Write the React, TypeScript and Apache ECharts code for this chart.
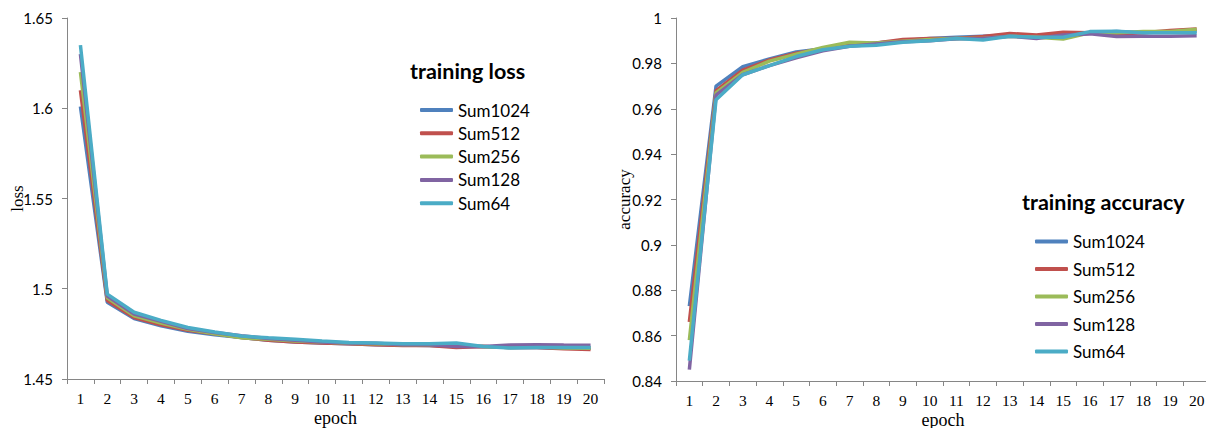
import React, { useEffect, useRef } from "react";
import * as echarts from "echarts";

const categories = ["1", "2", "3", "4", "5", "6", "7", "8", "9", "10", "11", "12", "13", "14", "15", "16", "17", "18", "19", "20"];
const seriesNames = ["Sum1024", "Sum512", "Sum256", "Sum128", "Sum64"];
const colors = ["#4F81BD", "#C0504D", "#9BBB59", "#8064A2", "#4BACC6"];

const lossSum1024 = [1.601, 1.4925, 1.4835, 1.4795, 1.4765, 1.4745, 1.473, 1.4715, 1.4705, 1.47, 1.4695, 1.469, 1.4688, 1.4685, 1.468, 1.468, 1.4675, 1.4675, 1.467, 1.467];
const lossSum512 = [1.61, 1.4935, 1.484, 1.48, 1.477, 1.475, 1.473, 1.4715, 1.4705, 1.47, 1.4695, 1.469, 1.4685, 1.4685, 1.4675, 1.468, 1.4675, 1.4675, 1.4668, 1.4663];
const lossSum256 = [1.62, 1.495, 1.485, 1.481, 1.4775, 1.475, 1.4728, 1.472, 1.471, 1.4705, 1.4698, 1.4695, 1.469, 1.469, 1.4685, 1.468, 1.4675, 1.4678, 1.4672, 1.467];
const lossSum128 = [1.63, 1.496, 1.486, 1.482, 1.478, 1.4758, 1.474, 1.4725, 1.4715, 1.4705, 1.47, 1.4698, 1.469, 1.469, 1.468, 1.468, 1.4688, 1.469, 1.4688, 1.4687];
const lossSum64 = [1.635, 1.497, 1.487, 1.4825, 1.4785, 1.476, 1.4738, 1.4728, 1.472, 1.471, 1.4702, 1.47, 1.4695, 1.4695, 1.47, 1.468, 1.4672, 1.4675, 1.4675, 1.4675];

const accSum1024 = [0.873, 0.97, 0.9785, 0.982, 0.985, 0.9865, 0.988, 0.989, 0.99, 0.991, 0.9915, 0.992, 0.9925, 0.992, 0.993, 0.9935, 0.994, 0.9935, 0.994, 0.994];
const accSum512 = [0.866, 0.968, 0.977, 0.9815, 0.9845, 0.9865, 0.988, 0.989, 0.9905, 0.991, 0.991, 0.9918, 0.9932, 0.9925, 0.9937, 0.9935, 0.993, 0.9935, 0.9945, 0.9951];
const accSum256 = [0.858, 0.967, 0.976, 0.981, 0.984, 0.987, 0.9893, 0.989, 0.9898, 0.9905, 0.991, 0.991, 0.992, 0.9915, 0.9907, 0.9935, 0.9935, 0.994, 0.994, 0.995];
const accSum128 = [0.845, 0.966, 0.975, 0.979, 0.9825, 0.9855, 0.9875, 0.9885, 0.9895, 0.99, 0.9908, 0.991, 0.992, 0.991, 0.9925, 0.993, 0.9918, 0.992, 0.992, 0.9922];
const accSum64 = [0.849, 0.964, 0.975, 0.979, 0.983, 0.986, 0.9875, 0.988, 0.9893, 0.99, 0.991, 0.9903, 0.992, 0.9915, 0.9915, 0.994, 0.9942, 0.9935, 0.9935, 0.9935];

const lossTicks = { min: 1.45, max: 1.65, interval: 0.05 };
const accTicks = { min: 0.84, max: 1, interval: 0.02 };

const lossData = [lossSum1024, lossSum512, lossSum256, lossSum128, lossSum64];
const accData = [accSum1024, accSum512, accSum256, accSum128, accSum64];

const AXIS_COLOR = "#868686";
const SANS = "Lato";
const SERIF = "Liberation Serif";

function makeX(gridIndex: number) {
  return {
    type: "category",
    gridIndex,
    data: categories,
    boundaryGap: true,
    axisLine: { lineStyle: { color: AXIS_COLOR, width: 1 } },
    axisTick: { show: true, length: 5, interval: 0, lineStyle: { color: AXIS_COLOR } },
    axisLabel: { interval: 0, fontFamily: SERIF, fontSize: 15.5, color: "#000", margin: 12, lineHeight: 15 },
    name: "epoch",
    nameLocation: "middle",
    nameGap: 30,
    nameMoveOverlap: false,
    nameTextStyle: { fontFamily: SERIF, fontSize: 18, color: "#000", lineHeight: 17 },
    splitLine: { show: false },
  };
}

function makeY(gridIndex: number, ticks: any, name: string, gap: number) {
  return {
    type: "value",
    gridIndex,
    min: ticks.min,
    max: ticks.max,
    interval: ticks.interval,
    axisLine: { show: true, lineStyle: { color: AXIS_COLOR, width: 1 } },
    axisTick: { show: true, length: 5, lineStyle: { color: AXIS_COLOR } },
    axisLabel: {
      fontFamily: SANS,
      fontSize: 15,
      color: "#000",
      margin: 14,
      formatter: (v: number) => String(+v.toFixed(2)),
    },
    splitLine: { show: false },
    name,
    nameLocation: "middle",
    nameGap: gap,
    nameMoveOverlap: false,
    nameRotate: 90,
    nameTextStyle: { fontFamily: SERIF, fontSize: 17, color: "#000" },
  };
}

export default function App() {
  const ref = useRef<HTMLDivElement>(null);
  useEffect(() => {
    if (!ref.current) return;
    const chart = echarts.init(ref.current, undefined, { renderer: "svg" });
    const series: any[] = [];
    seriesNames.forEach((name, i) => {
      series.push({
        name,
        type: "line",
        xAxisIndex: 0,
        yAxisIndex: 0,
        data: lossData[i],
        symbol: "none",
        lineStyle: { color: colors[i], width: 3.5 },
        itemStyle: { color: colors[i] },
        z: 2 + i,
      });
    });
    seriesNames.forEach((name, i) => {
      series.push({
        name,
        type: "line",
        xAxisIndex: 1,
        yAxisIndex: 1,
        data: accData[i],
        symbol: "none",
        lineStyle: { color: colors[i], width: 3.5 },
        itemStyle: { color: colors[i] },
        z: 2 + i,
      });
    });
    const legendBase = {
      orient: "vertical",
      data: seriesNames,
      icon: "roundRect",
      itemWidth: 33,
      itemHeight: 4,
      selectedMode: false,
      padding: 0,
      textStyle: { fontFamily: SANS, fontSize: 17, color: "#000", lineHeight: 20 },
    };
    chart.setOption({
      animation: false,
      backgroundColor: "#fff",
      title: [
        {
          text: "training loss",
          left: 410,
          top: 60,
          padding: 0,
          textStyle: { fontFamily: SANS, fontWeight: "bold", fontSize: 21.5, color: "#000" },
        },
        {
          text: "training accuracy",
          left: 1022,
          top: 191,
          padding: 0,
          textStyle: { fontFamily: SANS, fontWeight: "bold", fontSize: 21.5, color: "#000" },
        },
      ],
      legend: [
        { ...legendBase, left: 420, top: 100, itemGap: 3.3 },
        { ...legendBase, left: 1035, top: 231.5, itemGap: 7.5 },
      ],
      grid: [
        { left: 67, top: 18, width: 537, height: 361, outerBoundsMode: "none", containLabel: false },
        { left: 676, top: 18, width: 534, height: 363, outerBoundsMode: "none", containLabel: false },
      ],
      xAxis: [makeX(0), makeX(1)],
      yAxis: [makeY(0, lossTicks, "loss", 41), makeY(1, accTicks, "accuracy", 43)],
      series,
    });
    return () => chart.dispose();
  }, []);
  return (
    <div
      ref={ref}
      style={{ position: "fixed", left: 0, top: 0, width: 1206, height: 428 }}
    />
  );
}
